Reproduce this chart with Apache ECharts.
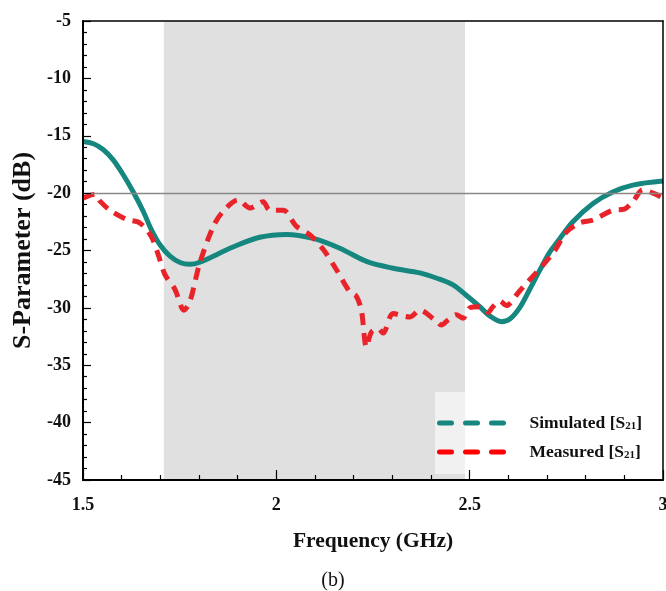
<!DOCTYPE html>
<html>
<head>
<meta charset="utf-8">
<script src="https://cdn.jsdelivr.net/npm/echarts@6/dist/echarts.min.js"></script>
<style>
  html, body { margin: 0; padding: 0; background: #fff; }
  #chart { width: 666px; height: 591px; }
</style>
</head>
<body>
<div id="chart"></div>
<script>
// Simulated S21 (GHz, dB)
const simFreq = [1.5, 1.527, 1.552, 1.578, 1.604, 1.63, 1.656, 1.677, 1.699, 1.725, 1.751, 1.776, 1.8, 1.888, 1.957, 2.026, 2.095, 2.164, 2.233, 2.302, 2.371, 2.422, 2.457, 2.491, 2.526, 2.552, 2.582, 2.603, 2.629, 2.655, 2.68, 2.706, 2.728, 2.767, 2.819, 2.87, 2.922, 3.0];
const simS21 = [-15.5, -15.7, -16.2, -17.1, -18.4, -19.9, -21.6, -23.2, -24.5, -25.5, -26.05, -26.2, -26.05, -24.7, -23.85, -23.6, -23.95, -24.8, -25.95, -26.55, -26.95, -27.5, -28.0, -28.9, -29.9, -30.7, -31.2, -31.0, -30.0, -28.4, -26.8, -25.2, -24.2, -22.5, -20.9, -19.9, -19.3, -18.95];

// Measured S21 (GHz, dB)
const measFreq = [1.5, 1.531, 1.544, 1.57, 1.613, 1.647, 1.677, 1.695, 1.712, 1.738, 1.761, 1.776, 1.802, 1.837, 1.862, 1.901, 1.932, 1.966, 1.983, 2.018, 2.052, 2.087, 2.121, 2.156, 2.19, 2.207, 2.22, 2.233, 2.246, 2.263, 2.276, 2.302, 2.345, 2.371, 2.41, 2.427, 2.444, 2.465, 2.483, 2.5, 2.526, 2.547, 2.56, 2.578, 2.595, 2.625, 2.651, 2.689, 2.72, 2.75, 2.784, 2.819, 2.836, 2.87, 2.9, 2.922, 2.948, 2.974, 3.0];
const measS21 = [-20.45, -20.1, -20.7, -21.5, -22.3, -22.6, -23.8, -25.4, -27.1, -28.4, -30.2, -29.5, -26.1, -22.9, -21.6, -20.6, -21.3, -20.75, -21.5, -21.5, -22.9, -23.65, -24.9, -26.7, -28.6, -29.0, -30.2, -33.4, -32.1, -31.8, -32.2, -30.5, -30.8, -30.2, -31.05, -31.5, -31.05, -30.6, -30.9, -30.0, -29.9, -30.4, -29.9, -29.4, -29.8, -28.7, -27.7, -26.3, -25.0, -23.4, -22.6, -22.35, -22.05, -21.5, -21.4, -20.75, -19.7, -20.0, -20.4];

// Operating band (shaded) and the -20 dB reference level
const bandGHz = [1.709, 2.488];
const refLevel = -20;

const seriesNames = ['Simulated [S21]', 'Measured [S21]'];

const SERIF = '"Liberation Serif", "Times New Roman", serif';
const TEAL = '#16877f';
const RED = '#e8232a';

const zip = (xs, ys) => xs.map((x, i) => [x, ys[i]]);

const chart = echarts.init(document.getElementById('chart'), null, { renderer: 'canvas' });

// "Name [S21]" -> rich text with the port numbers as a subscript
const legendLabel = name => {
  const m = name.match(/^(.*)\[S(\d+)\]$/);
  return '{t|' + m[1] + '[S}{s|' + m[2] + '}{t|]}';
};

chart.setOption({
  animation: false,
  backgroundColor: '#fff',
  grid: { left: 83, top: 21, right: 3, bottom: 111, containLabel: false, outerBoundsMode: 'none' },
  legend: {
    orient: 'vertical',
    left: 435,
    top: 392,
    padding: [22, 22, 13, 2],
    backgroundColor: 'rgba(255,255,255,0.55)',
    itemWidth: 72,
    itemHeight: 12,
    itemGap: 11,
    selectedMode: false,
    data: [
      { name: seriesNames[0], itemStyle: { opacity: 0 }, lineStyle: { type: [12, 14], width: 5, color: TEAL, cap: 'round' } },
      { name: seriesNames[1], itemStyle: { opacity: 0 }, lineStyle: { type: [12, 14], width: 5, color: '#ff0000', cap: 'round' } }
    ],
    formatter: legendLabel,
    textStyle: {
      padding: [0, 0, 0, 13],
      rich: {
        t: { fontFamily: SERIF, fontWeight: 'bold', fontSize: 17.5, color: '#111' },
        s: { fontFamily: SERIF, fontWeight: 'bold', fontSize: 11, color: '#111', verticalAlign: 'bottom', padding: [7, 0, 0, 0] }
      }
    }
  },
  graphic: [
    {
      type: 'text', left: 'center', top: 571, z: 20,
      style: { text: '(b)', font: '20px ' + SERIF, fill: '#111' }
    }
  ],
  xAxis: [
    {
      type: 'value', min: 1.5, max: 3, interval: 0.5, z: 10,
      name: 'Frequency (GHz)', nameLocation: 'middle', nameGap: 50,
      nameTextStyle: { fontFamily: SERIF, fontWeight: 'bold', fontSize: 21.5, color: '#111' },
      axisLine: { show: true, onZero: false, lineStyle: { color: '#000', width: 2 } },
      axisTick: { show: true, inside: true, length: 10, lineStyle: { color: '#000', width: 1.2 } },
      minorTick: { show: true, splitNumber: 5, length: 5, lineStyle: { color: '#000', width: 1.2 } },
      axisLabel: { margin: 16, fontFamily: SERIF, fontWeight: 'bold', fontSize: 18, color: '#111' },
      splitLine: { show: false }
    },
    {
      type: 'value', min: 1.5, max: 3, position: 'top', z: 10,
      axisLine: { show: true, onZero: false, lineStyle: { color: '#000', width: 1.5 } },
      axisTick: { show: false }, axisLabel: { show: false }, splitLine: { show: false }
    }
  ],
  yAxis: [
    {
      type: 'value', min: -45, max: -5, interval: 5, z: 10,
      name: 'S-Parameter (dB)', nameLocation: 'middle', nameGap: 47,
      nameTextStyle: { fontFamily: SERIF, fontWeight: 'bold', fontSize: 26, color: '#111' },
      axisLine: { show: true, onZero: false, lineStyle: { color: '#000', width: 2 } },
      axisTick: { show: true, inside: true, length: 8, lineStyle: { color: '#000', width: 1.2 } },
      minorTick: { show: true, splitNumber: 5, length: 4, lineStyle: { color: '#000', width: 1.2 } },
      axisLabel: { margin: 12, fontFamily: SERIF, fontWeight: 'bold', fontSize: 18, color: '#111' },
      splitLine: { show: false }
    },
    {
      type: 'value', min: -45, max: -5, position: 'right', z: 10,
      axisLine: { show: true, onZero: false, lineStyle: { color: '#000', width: 1.5 } },
      axisTick: { show: false }, axisLabel: { show: false }, splitLine: { show: false }
    }
  ],
  series: [
    {
      // band shading and reference level
      type: 'line', data: [], z: 1, silent: true,
      markArea: {
        silent: true,
        itemStyle: { color: '#e0e0e0' },
        data: [[{ xAxis: bandGHz[0], yAxis: -45 }, { xAxis: bandGHz[1], yAxis: -5 }]]
      },
      markLine: {
        silent: true, symbol: 'none', label: { show: false },
        lineStyle: { type: 'solid', color: '#888', width: 1.3 },
        data: [{ yAxis: refLevel }]
      }
    },
    {
      name: seriesNames[0], type: 'line', z: 3,
      data: zip(simFreq, simS21),
      smooth: 0.35, symbol: 'none', showSymbol: false,
      lineStyle: { color: TEAL, width: 5 },
      itemStyle: { color: TEAL }
    },
    {
      name: seriesNames[1], type: 'line', z: 4,
      data: zip(measFreq, measS21),
      smooth: 0.3, symbol: 'none', showSymbol: false,
      lineStyle: { color: RED, width: 5, type: [12, 8] },
      itemStyle: { color: RED }
    }
  ]
});
</script>
</body>
</html>
